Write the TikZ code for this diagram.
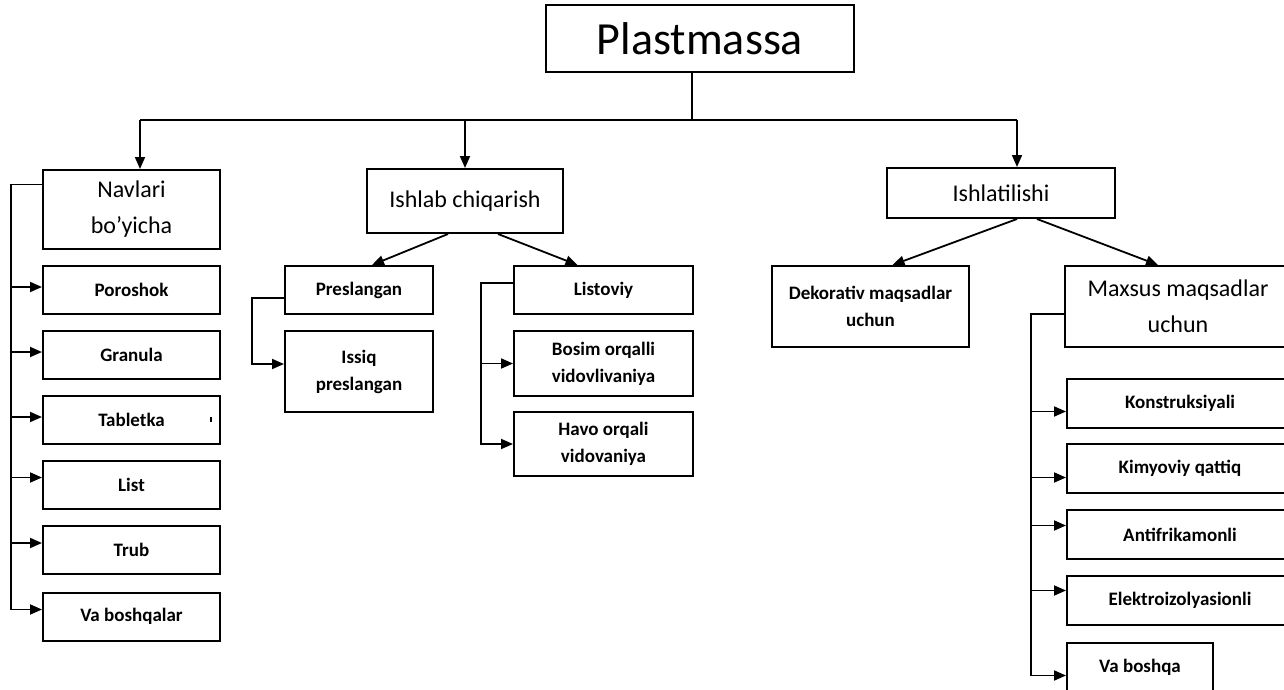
\documentclass[tikz,border=0pt]{standalone}
\usepackage{fontspec}
\setmainfont{Carlito}
\usetikzlibrary{arrows.meta}

\tikzset{
  box/.style={draw, line width=2pt, align=center, inner sep=2pt},
  head/.style={box, font=\fontsize{24}{36}\selectfont},
  item/.style={box, font=\bfseries\fontsize{19}{27}\selectfont},
  link/.style={line width=1.8pt},
  arr/.style={link, -{Triangle[length=12pt,width=10pt]}},
}

\begin{document}
\begin{tikzpicture}[x=1pt, y=-1pt]
\clip (0,0) rectangle (1284,690);

% root and the three branches
\node[box, font=\fontsize{46}{50}\selectfont, minimum width=308pt, minimum height=67pt] (root) at (700,38.5) {Plastmassa};
\node[head, minimum width=177pt, minimum height=79pt] (navlari) at (131.5,209.5) {Navlari\\bo’yicha};
\node[head, minimum width=196pt, minimum height=64pt] (ishlab) at (465,201) {Ishlab chiqarish};
\node[head, minimum width=228pt, minimum height=50pt] (ishlat) at (1001,193) {Ishlatilishi};

% kinds
\foreach \n/\t/\y in {poro/Poroshok/290, gran/Granula/355, tabl/Tabletka/420,
                      list/List/484.5, trub/Trub/550, vabl/Va boshqalar/616.5}
  \node[item, minimum width=177pt, minimum height=48pt] (\n) at (131.5,\y) {\t};
\fill (209.5,416.5) rectangle (211.5,421.5);

% production
\node[item, minimum width=148pt, minimum height=48pt] (presl) at (359,290) {Preslangan};
\node[item, minimum width=148pt, minimum height=81pt] (issiq) at (359,371.5) {Issiq\\preslangan};
\node[item, minimum width=179pt, minimum height=48pt] (listov) at (603.5,290) {Listoviy};
\node[item, minimum width=179pt, minimum height=65pt] (bosim) at (603.5,363.5) {Bosim orqalli\\vidovlivaniya};
\node[item, minimum width=179pt, minimum height=64pt] (havo) at (603.5,444) {Havo orqali\\vidovaniya};

% usage
\node[item, minimum width=197pt, minimum height=81pt] (dekor) at (870.5,306.5) {Dekorativ maqsadlar\\uchun};
\node[head, minimum width=226pt, minimum height=81pt] (maxsus) at (1178,306.5) {Maxsus maqsadlar\\uchun};
\foreach \n/\t/\y in {kons/Konstruksiyali/403.5, kimy/Kimyoviy qattiq/468.5,
                      anti/Antifrikamonli/534.5, elek/Elektroizolyasionli/600.5}
  \node[item, minimum width=226pt, minimum height=49pt] (\n) at (1180,\y) {\t};
\node[item, minimum width=146pt, minimum height=49pt] (vabo) at (1140,667.5) {Va boshqa};

% root to branches
\coordinate (stem) at (692,120);
\coordinate (bl) at (140,120);
\coordinate (br) at (1017,120);
\draw[link] (stem |- root.south) -- (stem);
\draw[link] (bl) -- (br);
\draw[arr] (bl) -- (bl |- navlari.north);
\draw[arr] (ishlab.north |- bl) -- (ishlab.north);
\draw[arr] (br) -- (br |- ishlat.north);

% left trunk
\coordinate (lt) at (11,0);
\path ([yshift=25pt]navlari.west) coordinate (ls);
\foreach \n/\dy in {poro/3, gran/3, tabl/3, list/7, trub/7, vabl/7} {
  \path ([yshift=\dy pt]\n.west) coordinate (tip);
  \draw[arr] (ls) -- (ls -| lt) |- (tip);
}

% production links
\draw[arr] ([xshift=-17pt]ishlab.south) -- ([xshift=13pt]presl.north);
\draw[arr] ([xshift=33pt]ishlab.south) -- ([xshift=-26pt]listov.north);
\draw[arr] ([yshift=-8pt]presl.west) -- ++(-32,0) |- ([yshift=7.5pt]issiq.west);
\path ([yshift=7pt]listov.west) coordinate (ls2);
\foreach \n in {bosim, havo}
  \draw[arr] (ls2) -- ++(-32,0) |- (\n.west);

% usage links
\draw[arr] ([xshift=16pt]ishlat.south) -- ([xshift=22pt]dekor.north);
\draw[arr] ([xshift=36pt]ishlat.south) -- ([xshift=-20pt]maxsus.north);
\path ([yshift=-7.5pt]maxsus.west) coordinate (ms);
\foreach \n/\dy in {kons/-8, kimy/-9, anti/9, elek/10, vabo/-8} {
  \path ([yshift=\dy pt]\n.west) coordinate (tip);
  \draw[arr] (ms) -- ++(-33,0) |- (tip);
}
\end{tikzpicture}
\end{document}
